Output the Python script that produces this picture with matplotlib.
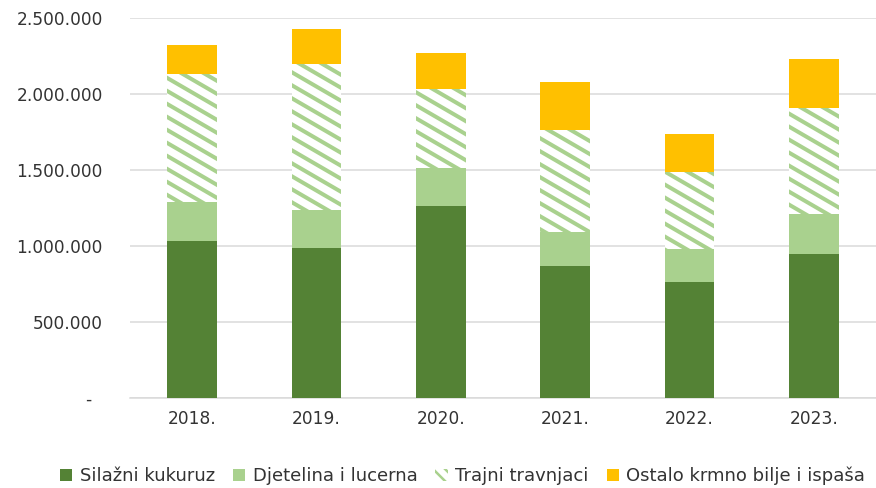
import matplotlib
matplotlib.use("Agg")
import matplotlib.pyplot as plt
import numpy as np
from matplotlib.ticker import FuncFormatter
from matplotlib.patches import Patch

# podaci (t), očitano sa slike
godine = ["2018.", "2019.", "2020.", "2021.", "2022.", "2023."]
silazni_kukuruz = [1030000, 990000, 1260000, 870000, 760000, 950000]
djetelina_lucerna = [260000, 250000, 250000, 220000, 220000, 260000]
trajni_travnjaci = [840000, 960000, 520000, 670000, 510000, 700000]
ostalo_krmno = [190000, 230000, 240000, 320000, 250000, 320000]

serije = ["Silažni kukuruz", "Djetelina i lucerna", "Trajni travnjaci",
          "Ostalo krmno bilje i ispaša"]
boje = ["#548235", "#A9D18E", "#A9D18E", "#FFC000"]

# dpi 72 -> 1 pt = 1 px
DPI = 72
plt.rcParams['font.family'] = ['DejaVu Sans']
plt.rcParams['hatch.linewidth'] = 2.5

fig = plt.figure(figsize=(876 / DPI, 488 / DPI), dpi=DPI)
ax = fig.add_axes([130 / 876, 90 / 488, 746 / 876, 380 / 488])

x = np.arange(len(godine))
w = 0.4
dno = np.zeros(len(godine))

ax.bar(x, silazni_kukuruz, w, bottom=dno, color=boje[0], zorder=3)
dno += silazni_kukuruz
ax.bar(x, djetelina_lucerna, w, bottom=dno, color=boje[1], zorder=3)
dno += djetelina_lucerna
trajni = ax.bar(x, trajni_travnjaci, w, bottom=dno, color="white", zorder=3)
dno += trajni_travnjaci
ax.bar(x, ostalo_krmno, w, bottom=dno, color=boje[3], zorder=3)

ax.set_xlim(-0.5, len(godine) - 0.5)
ax.set_ylim(0, 2500000)

# ručno iscrtane kose pruge (kao Excel uzorak), u pikselima
nagib = 0.58
period = 13.0
tr = ax.transData
inv = tr.inverted()
for rect in trajni:
    x0, y0 = rect.get_x(), rect.get_y()
    x1, y1 = x0 + rect.get_width(), y0 + rect.get_height()
    (px0, py0), (px1, py1) = tr.transform([(x0, y0), (x1, y1)])
    cmin = py0 + nagib * px0
    cmax = py1 + nagib * px1
    for c in np.arange(np.floor(cmin / period) * period, cmax + period, period):
        pts = inv.transform([(px0 - 5, c - nagib * (px0 - 5)),
                             (px1 + 5, c - nagib * (px1 + 5))])
        ln, = ax.plot(pts[:, 0], pts[:, 1], color=boje[2], lw=4,
                      solid_capstyle="butt", zorder=4)
        ln.set_clip_path(rect)

ax.set_yticks(np.arange(0, 2500001, 500000))


def fmt(v, pos):
    if v == 0:
        return "-  "
    return f"{int(v):,}".replace(",", ".")


ax.yaxis.set_major_formatter(FuncFormatter(fmt))
ax.set_xticks(x)
ax.set_xticklabels(godine)

ax.grid(axis="y", color="#D9D9D9", linewidth=1.5, zorder=0)
for s in ["top", "right", "left"]:
    ax.spines[s].set_visible(False)
ax.spines["bottom"].set_color("#D9D9D9")
ax.spines["bottom"].set_linewidth(1.5)

ax.tick_params(axis="both", length=0, colors="#333333", labelsize=17)
ax.tick_params(axis="y", pad=27)
ax.tick_params(axis="x", pad=12)

rucke = [Patch(facecolor=boje[0]), Patch(facecolor=boje[1]),
         Patch(facecolor="white", edgecolor=boje[2], hatch="\\\\", linewidth=0),
         Patch(facecolor=boje[3])]
fig.legend(rucke, serije, loc="center", bbox_to_anchor=(0.528, 12 / 488), ncol=4,
           frameon=False, fontsize=18, handlelength=0.7, handleheight=0.7,
           handletextpad=0.4, columnspacing=1.0, labelcolor="#333333")

fig.savefig("out.png", dpi=DPI)
